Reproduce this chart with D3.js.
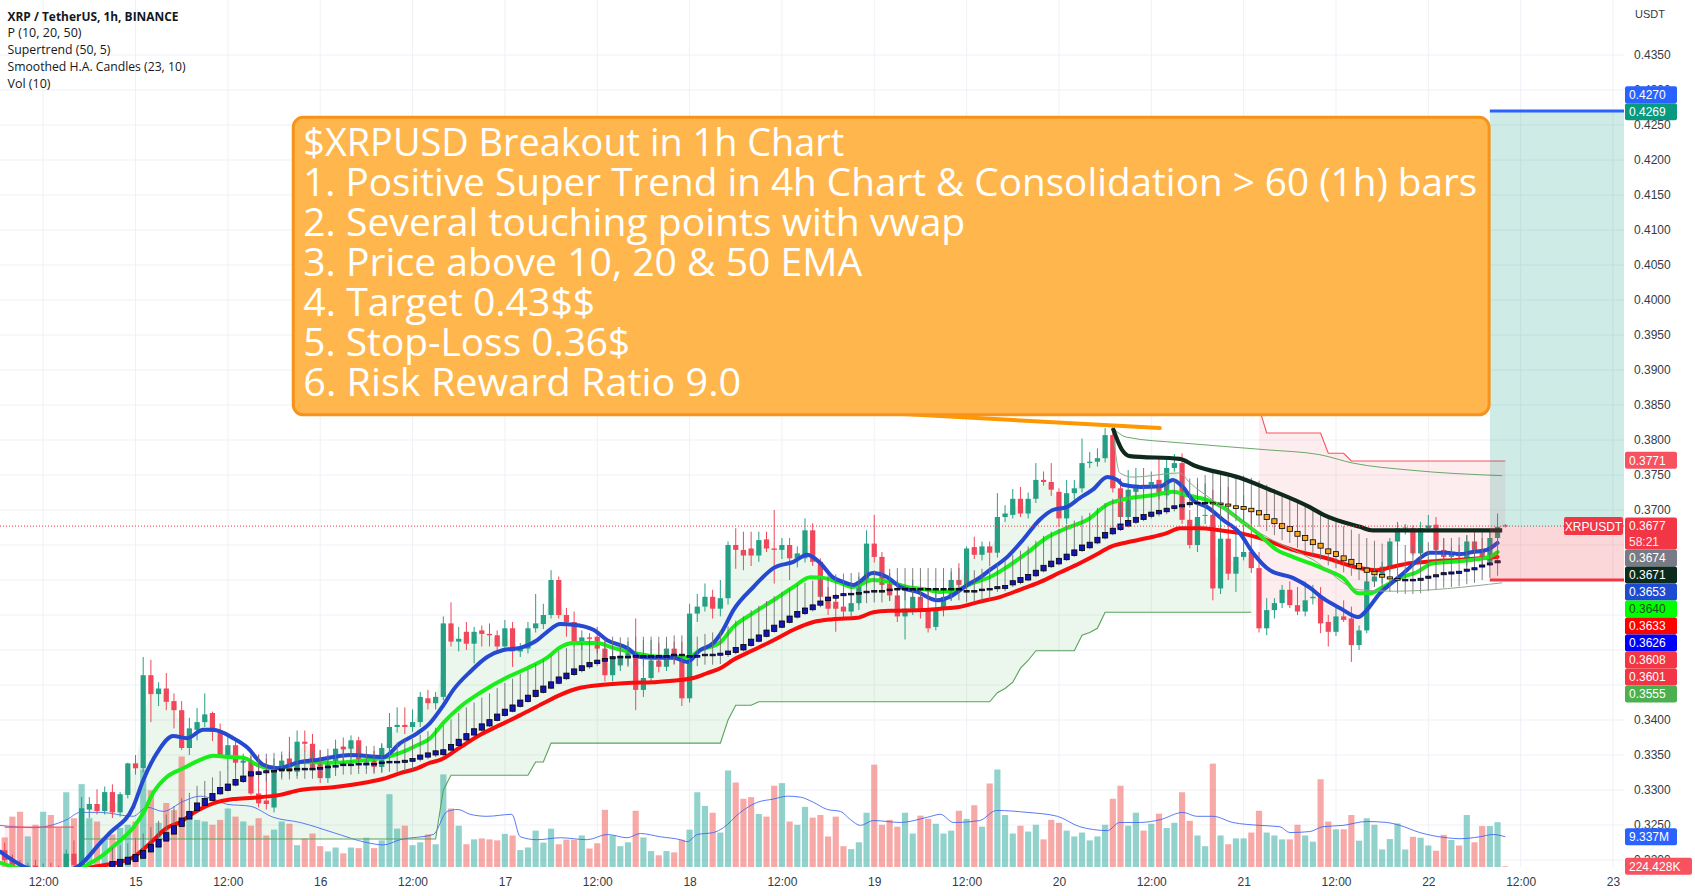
<!DOCTYPE html>
<html><head><meta charset="utf-8">
<script src="https://cdn.jsdelivr.net/npm/d3@7/dist/d3.min.js"></script>
<style>
html,body{margin:0;padding:0;background:#fff;overflow:hidden;}
svg{display:block;}
</style></head><body>
<svg id="chart" width="1695" height="896"></svg>
<script>
// ===================== DATA =====================
// prices are in units of 0.0001 USDT, volumes in millions XRP
// candle k opens at hour (firstHour + k), hours counted from day 15 00:00
const firstHour = -17;
const openP = [
3214,3200,3190,3185,3192,3183,3188,3184,3180,3209,
3193,3272,3280,3270,3297,3268,3293,3338,3331,3464,
3437,3445,3427,3414,3360,3386,3397,3410,3383,3350,
3364,3339,3342,3295,3285,3275,3326,3345,3326,3369,
3366,3345,3317,3338,3362,3359,3371,3338,3345,3333,
3360,3390,3393,3390,3397,3431,3424,3433,3538,3512,
3526,3509,3528,3523,3521,3505,3531,3498,3502,3531,
3537,3550,3600,3550,3540,3512,3518,3519,3502,3464,
3478,3488,3495,3443,3460,3485,3476,3502,3491,3431,
3552,3562,3576,3559,3574,3650,3643,3645,3635,3658,
3645,3643,3650,3631,3631,3671,3626,3576,3569,3562,
3555,3567,3598,3652,3633,3595,3578,3548,3559,3576,
3559,3533,3559,3576,3600,3593,3647,3636,3648,3639,
3690,3693,3716,3695,3716,3743,3740,3726,3688,3724,
3731,3767,3769,3774,3807,3731,3690,3726,3736,3736,
3743,3721,3760,3767,3686,3650,3693,3693,3588,3659,
3609,3633,3640,3617,3531,3557,3567,3586,3564,3555,
3574,3576,3540,3526,3548,3545,3507,3528,3598,3605,
3619,3655,3674,3674,3638,3674,3679,3643,3633,3640,
3626,3655,3643,3626,3660,3678];
const highP = [
3225,3208,3200,3196,3200,3195,3196,3192,3215,3228,
3290,3290,3301,3305,3308,3297,3339,3350,3490,3486,
3454,3467,3438,3427,3403,3417,3438,3412,3395,3376,
3371,3352,3348,3351,3345,3345,3350,3376,3385,3385,
3380,3357,3350,3372,3375,3378,3376,3352,3356,3367,
3410,3418,3418,3415,3440,3443,3440,3548,3568,3533,
3540,3533,3535,3538,3528,3543,3540,3510,3540,3580,
3566,3614,3605,3560,3555,3528,3524,3533,3515,3500,
3510,3512,3545,3514,3514,3510,3512,3512,3512,3566,
3580,3595,3586,3600,3655,3674,3669,3669,3669,3669,
3700,3660,3660,3648,3688,3681,3631,3590,3580,3575,
3580,3605,3671,3693,3640,3610,3600,3590,3600,3590,
3585,3580,3590,3612,3624,3648,3662,3655,3655,3724,
3707,3730,3733,3725,3767,3755,3767,3731,3743,3743,
3802,3783,3788,3817,3819,3745,3757,3760,3760,3755,
3774,3774,3780,3781,3700,3738,3738,3729,3733,3733,
3667,3721,3700,3640,3574,3574,3593,3598,3590,3598,
3593,3590,3550,3562,3571,3562,3535,3619,3612,3626,
3660,3683,3680,3678,3683,3693,3690,3660,3648,3650,
3664,3669,3660,3669,3695,3680];
const lowP = [
3196,3182,3178,3175,3180,3172,3176,3170,3175,3188,
3188,3260,3265,3265,3260,3262,3288,3322,3325,3397,
3420,3414,3388,3357,3350,3371,3390,3370,3347,3331,
3330,3322,3293,3275,3272,3268,3318,3322,3320,3355,
3325,3310,3310,3328,3340,3345,3330,3330,3325,3325,
3350,3382,3380,3383,3390,3415,3415,3428,3505,3498,
3500,3481,3505,3505,3495,3500,3476,3490,3495,3525,
3530,3545,3545,3519,3505,3500,3505,3495,3455,3455,
3470,3478,3414,3433,3455,3468,3470,3480,3420,3425,
3540,3555,3545,3548,3565,3616,3614,3620,3626,3640,
3595,3630,3600,3618,3625,3620,3570,3550,3526,3545,
3548,3557,3590,3625,3585,3570,3540,3515,3550,3545,
3525,3528,3548,3570,3590,3588,3630,3628,3620,3632,
3683,3688,3690,3688,3710,3735,3720,3676,3680,3715,
3725,3760,3762,3768,3725,3680,3685,3715,3725,3730,
3715,3715,3755,3680,3645,3640,3680,3571,3580,3600,
3583,3628,3610,3525,3521,3545,3560,3560,3550,3548,
3565,3524,3505,3520,3540,3483,3500,3524,3590,3595,
3612,3648,3665,3635,3632,3668,3640,3630,3625,3628,
3620,3630,3622,3620,3655,3675];
const closeP = [
3200,3190,3185,3192,3183,3188,3184,3180,3209,3193,
3274,3280,3270,3297,3268,3294,3338,3331,3464,3437,
3445,3426,3414,3360,3388,3397,3408,3383,3350,3364,
3339,3342,3295,3281,3280,3326,3342,3326,3369,3366,
3331,3317,3338,3359,3358,3371,3343,3343,3333,3360,
3390,3393,3390,3397,3433,3424,3433,3538,3512,3516,
3509,3526,3523,3521,3505,3531,3498,3502,3531,3538,
3550,3600,3550,3540,3512,3518,3516,3502,3464,3490,
3492,3497,3443,3460,3485,3476,3502,3490,3431,3552,
3562,3576,3559,3574,3650,3643,3635,3635,3657,3645,
3643,3650,3631,3638,3671,3626,3576,3559,3559,3555,
3567,3598,3652,3633,3593,3578,3548,3559,3576,3559,
3531,3559,3576,3600,3593,3645,3636,3648,3639,3690,
3695,3716,3695,3716,3743,3740,3729,3688,3724,3731,
3767,3769,3774,3807,3731,3690,3729,3736,3734,3740,
3721,3760,3767,3686,3650,3690,3693,3588,3659,3609,
3633,3640,3617,3531,3557,3567,3586,3564,3555,3571,
3576,3538,3526,3548,3543,3507,3528,3598,3605,3619,
3655,3674,3675,3638,3674,3678,3643,3633,3640,3634,
3655,3640,3629,3660,3676,3677];
const volumeM = [
9.1,15.5,17,9.4,13,17,16,12,23,15,
25.5,15,14,9,10,12,13,14,30,23.6,
13.6,19.7,17.5,34,17,14.5,14,13,14.5,18,
15.5,14,12.7,15,9.7,11.5,14,13.3,6.7,8.8,
10.3,6.4,4.8,6,4.2,6,5.8,9,5.8,8.2,
22.4,11.8,12.7,6.7,7.6,10,7,28.5,18,12.7,
7,8.5,8.8,8.5,8.2,10.2,9.7,5.2,6,11.2,
7.5,11.8,7,8.4,8.4,9.7,5.7,7.3,17.6,9.7,
6.4,7.6,17.3,9.1,4.9,3.6,4.9,4.5,8.4,11.5,
23,18.8,16.7,10.6,29.7,26,21,21.5,16.3,15.5,
25,25.8,14,13,18.5,15.2,16,9.4,15.5,6.4,
5.5,7.6,16.7,31.5,13,14.5,12.4,16.7,10.3,15.8,
14.8,13.3,10.3,11.2,17.3,14.8,19,12.4,25.7,30,
16,10.3,12.7,10.9,13,8.5,14.5,13.6,11.2,9.4,
10.6,8.2,9.4,13,21,25,12.7,16.7,11.2,13.3,
16.4,12,13.6,23,14.2,9.7,6.4,31.8,9.7,7,
8.8,8.8,10.6,17.3,10.6,9.7,8.5,8.5,13,9.7,
7.8,27,14,11.6,11.6,16,8.1,15,13,5.4,
8.6,13.4,5.4,9.3,9,6.6,5,9.9,8.3,6.6,
16,7.6,12.6,12.6,13.8,0.224];
// Supertrend (50,5) level per candle
const superTrend = [
3247,3247,3247,3247,3247,3247,3247,3247,3247,3247,
3230,3230,3230,3230,3230,3230,3230,3230,3230,3230,
3230,3230,3230,3230,3230,3230,3230,3230,3230,3230,
3230,3230,3230,3230,3230,3230,3230,3230,3230,3230,
3230,3230,3230,3230,3230,3230,3230,3230,3230,3230,
3230,3230,3230,3230,3230,3230,3230,3300,3321,3321,
3321,3321,3321,3321,3321,3321,3321,3321,3321,3340,
3340,3367,3367,3367,3367,3367,3367,3367,3367,3367,
3367,3367,3367,3367,3367,3367,3367,3367,3367,3367,
3367,3367,3367,3367,3400,3421,3421,3421,3426,3426,
3426,3426,3426,3426,3426,3426,3426,3426,3426,3426,
3426,3426,3426,3426,3426,3426,3426,3426,3426,3426,
3426,3426,3426,3426,3426,3426,3426,3426,3426,3439,
3445,3454,3474,3485,3499,3499,3499,3499,3499,3499,
3521,3525,3531,3554,3554,3554,3554,3554,3554,3554,
3554,3554,3554,3554,3554,3554,3554,3554,3554,3554,
3554,3554,3554,3846,3810,3810,3810,3810,3810,3810,
3810,3810,3781,3781,3781,3770,3770,3770,3770,3770,
3770,3770,3770,3770,3770,3770,3770,3770,3770,3770,
3770,3770,3770,3770,3770,3770];
// trend sides: [fromHour, toHour, +1 up / -1 down]
const stSides = [[-17,-8,-1],[-7,145,1],[146,178,-1]];

// Smoothed Heikin-Ashi (23,10): body centre, signed body size, wick above / below centre
const haStart = -3;
const haMid = [
3193,3196,3199,3203,3208,3217,3224,3233,3243,3254,
3264,3276,3283,3290,3299,3304,3311,3316,3323,3324,
3326,3327,3329,3329,3330,3330,3330,3331,3333,3334,
3336,3336,3337,3337,3337,3339,3340,3340,3341,3343,
3347,3350,3353,3354,3361,3368,3376,3383,3390,3396,
3404,3411,3417,3424,3431,3438,3444,3450,3457,3463,
3469,3474,3479,3483,3486,3489,3490,3490,3491,3491,
3491,3491,3491,3493,3493,3491,3491,3493,3493,3494,
3496,3500,3504,3511,3517,3524,3531,3537,3544,3551,
3556,3561,3567,3573,3576,3579,3580,3581,3583,3584,
3584,3586,3587,3587,3587,3587,3587,3587,3587,3587,
3587,3584,3584,3586,3587,3589,3590,3596,3600,3604,
3610,3617,3623,3627,3633,3639,3646,3650,3657,3664,
3670,3676,3681,3686,3690,3694,3697,3700,3704,3706,
3709,3710,3710,3710,3709,3707,3704,3703,3700,3696,
3690,3684,3677,3673,3666,3660,3654,3649,3641,3637,
3631,3626,3620,3614,3610,3606,3603,3601,3600,3600,
3601,3604,3606,3609,3610,3611,3614,3616,3620,3623,
3626];
const haBody = [
10,10,10,10,11,11,11,12,12,12,
11,11,10,10,9,9,8,8,6,4,
3,2,2,2,2,2,2,2,2,2,
2,2,2,2,2,2,2,2,3,4,
6,6,6,7,8,9,9,9,9,9,
9,9,9,9,9,9,9,9,9,8,
8,7,6,5,4,3,2,2,2,2,
2,2,2,2,2,2,2,2,2,3,
5,7,8,9,9,9,9,9,9,8,
8,7,6,5,4,3,2,2,2,2,
2,2,2,2,2,2,2,2,2,2,
2,2,2,2,2,3,4,6,7,8,
8,8,8,8,8,8,8,8,8,8,
8,8,8,7,7,6,5,5,4,3,
3,2,2,-2,-2,-3,-4,-4,-5,-6,
-7,-7,-7,-7,-7,-7,-7,-7,-7,-7,
-7,-7,-7,-6,-5,-4,-3,-2,2,2,
3,3,3,3,3,3,3,3,3,3,
3];
const haUp = [
25,25,25,28,30,30,32,32,34,34,
32,30,30,28,28,28,28,28,28,26,
26,26,26,26,26,26,26,26,26,26,
26,26,26,26,26,26,28,28,30,30,
32,34,36,38,40,42,42,42,42,42,
42,42,42,42,42,42,42,42,42,40,
38,36,34,32,30,30,28,28,28,28,
28,28,28,28,28,28,28,30,32,34,
38,42,44,46,46,46,46,46,44,42,
40,38,36,34,32,30,30,30,30,30,
30,30,30,30,30,30,30,30,30,30,
30,30,30,30,32,34,38,40,42,44,
46,46,46,46,46,46,46,46,46,46,
46,46,46,46,44,42,40,40,38,36,
36,36,40,44,46,46,46,46,46,46,
46,46,46,46,46,46,46,46,46,46,
46,46,46,46,46,46,48,50,50,50,
50,50,50,50,50,50,50,50,50,50,
50];
const haDn = [
6,6,6,6,6,6,6,6,6,6,
6,6,6,6,6,6,6,6,6,6,
14,14,14,14,14,14,14,14,14,14,
14,14,14,14,14,14,14,14,14,14,
6,6,6,6,6,6,6,6,6,6,
6,6,6,6,6,6,6,6,6,6,
6,6,6,6,14,14,14,14,14,14,
14,14,14,14,14,14,14,14,14,14,
6,6,6,6,6,6,6,6,6,6,
6,6,6,6,6,16,16,16,16,16,
16,16,16,16,16,16,16,16,16,16,
16,16,16,16,16,6,6,6,6,6,
6,6,6,6,6,6,6,6,6,6,
6,6,6,6,6,6,6,6,6,6,
6,6,6,20,20,20,20,20,20,20,
20,20,20,20,20,20,20,20,20,20,
20,20,20,20,20,20,20,20,20,20,
20,20,20,20,20,20,20,20,20,20,
20];

// EMA 10 / 20 / 50: [hour, price]
const ema10 = [[-17.6,3212],[-16,3200],[-14,3188],[-11,3182],[-9,3184],[-7.2,3193],[-4.6,3224],[-3.3,3239],[-0.3,3276],[1,3314],[2.8,3353],[4.9,3377],[6.7,3374],[8.8,3386],[10.1,3386],[12.7,3374],[14.5,3361],[16.6,3336],[18.4,3331],[21.4,3340],[23.6,3343],[27.9,3350],[32.2,3347],[34.4,3367],[36.6,3381],[38.3,3396],[40,3421],[41.3,3443],[43.5,3469],[45.7,3490],[47.8,3500],[50,3503],[52.2,3514],[53.5,3526],[55.2,3537],[56.9,3536],[59.5,3529],[61.3,3514],[63.9,3503],[65.6,3490],[67.3,3489],[69.9,3489],[71.7,3483],[73.4,3500],[75.1,3510],[76.2,3526],[77.7,3557],[80.3,3590],[82.9,3617],[85.5,3626],[87.3,3636],[89,3624],[90.6,3604],[91.8,3598],[93.3,3593],[95.8,3610],[97.7,3604],[99.4,3590],[101.6,3583],[104.2,3571],[105.8,3576],[108.1,3593],[109.8,3604],[111,3614],[113.3,3633],[115.3,3657],[117.5,3686],[119.2,3700],[121,3704],[122.7,3717],[124.4,3729],[126.3,3747],[127.6,3743],[128.3,3736],[130.6,3733],[133.2,3734],[134.8,3743],[136.1,3733],[137.4,3714],[139.3,3704],[141.3,3686],[143.5,3667],[145.2,3639],[147.4,3614],[150.4,3603],[152.6,3589],[154.3,3574],[156.5,3560],[158.9,3547],[160,3557],[161.7,3581],[163.4,3597],[165.2,3614],[166.9,3631],[168.2,3639],[170.4,3639],[172.1,3637],[173.8,3640],[175.6,3643],[177,3653]];
const ema20 = [[-17.6,3196],[-15,3188],[-11,3182],[-8,3184],[-6.8,3190],[-4.6,3204],[-2.4,3224],[-0.3,3246],[1,3267],[2.3,3296],[4.1,3319],[6.2,3331],[8.4,3343],[10.1,3349],[12.3,3347],[14,3346],[15.8,3336],[17.5,3331],[19.7,3333],[21.4,3340],[25.7,3339],[30.1,3343],[32.2,3346],[34.4,3353],[36.6,3364],[38.3,3374],[40,3396],[42.2,3419],[44.8,3439],[48.3,3461],[50.9,3474],[53.5,3489],[55.2,3504],[56.9,3510],[60,3510],[62.1,3503],[64.7,3496],[67.3,3491],[69.9,3490],[71.7,3489],[73.4,3500],[76,3511],[77.7,3533],[80.3,3553],[82.9,3571],[85.5,3590],[87.7,3604],[89.4,3603],[91.6,3596],[93.2,3590],[95.8,3600],[98.1,3597],[100.3,3590],[102.9,3586],[104.6,3583],[106.8,3586],[108.9,3596],[111,3604],[113.3,3619],[115.9,3639],[118.5,3661],[121,3674],[123.7,3686],[126.3,3708],[128.8,3716],[132.2,3721],[134.8,3726],[136.7,3721],[139.3,3714],[141.3,3704],[143.5,3686],[145.8,3667],[148.3,3643],[150.4,3633],[152.6,3624],[154.8,3614],[156.9,3603],[158.9,3581],[160.4,3581],[162.1,3590],[164.3,3603],[166.5,3611],[168.6,3624],[171.2,3626],[173.8,3629],[176,3633],[177,3640]];
const ema50 = [[-17.6,3180],[-10,3176],[-5.5,3190],[-2.4,3196],[-0.3,3204],[1.9,3224],[4.1,3246],[5.8,3254],[7.5,3267],[10.1,3281],[12.7,3287],[15.3,3289],[18.8,3293],[21.4,3300],[25.7,3304],[30.1,3311],[32.2,3316],[34.4,3324],[36.6,3331],[38.3,3339],[39.6,3343],[42.2,3361],[44.8,3379],[47.4,3393],[50,3407],[53,3424],[55.2,3436],[57.8,3446],[60.4,3450],[63.9,3453],[67.3,3454],[70.8,3457],[72.5,3460],[74.3,3467],[76,3474],[77.7,3486],[80.3,3500],[82.9,3514],[85.5,3529],[88.1,3540],[90.6,3544],[93.8,3546],[95.9,3554],[98.1,3556],[102.4,3557],[104.6,3559],[106.8,3561],[109.7,3569],[112.4,3576],[114.9,3586],[117.5,3597],[120.2,3611],[122.7,3624],[125.3,3639],[126.6,3647],[128.9,3654],[131.5,3660],[134,3667],[135.7,3674],[138.3,3674],[140.9,3671],[143.5,3667],[146.1,3660],[150.4,3643],[154.8,3631],[159.1,3617],[161.3,3614],[163.4,3619],[165.6,3624],[167.8,3626],[172.1,3629],[177,3633]];
// anchored VWAP from the peak and its bands: [hour, price]
const vwapLine = [[127,3817],[128.2,3786],[129.2,3777],[135.7,3773],[137.5,3764],[143.5,3746],[147.4,3729],[152.6,3704],[154.4,3693],[159.1,3676],[160.8,3671],[177.6,3671]];
const vwapUpper = [[127,3817],[128.8,3804],[135.7,3796],[147,3786],[153.9,3779],[158.2,3767],[165.6,3757],[177.6,3749]];
const vwapLower = [[127,3817],[127.9,3753],[129.6,3747],[135.7,3753],[137,3739],[140,3714],[146.1,3667],[153,3629],[159.1,3586],[163.4,3584],[177.6,3596]];
// Volume MA(10): [hour, millions]
const volMA = [[-17.6,12.8],[-13.3,12.1],[-8.9,14.6],[-7.2,16.8],[-4.6,16.8],[-0.3,15.6],[1.5,18.4],[3.6,17.1],[6.2,20.2],[8.4,21.8],[10.1,20.9],[11.9,19.3],[14.9,18.7],[17.9,15.3],[21.4,13.7],[25.7,10.6],[30.1,7.5],[32.2,6.8],[34.4,8.4],[38.7,10],[40.5,17.1],[41.9,17.7],[43.5,16.2],[45.7,15.6],[48.9,16.2],[50,9.3],[52.2,8.4],[55.2,9],[58.7,8.4],[61.3,10],[63.9,9],[65.6,10.3],[68.2,9.3],[70.8,8.4],[71.7,7.8],[73,10],[75.1,10.6],[76.4,12.1],[78.6,16.8],[80.8,19.9],[82.9,20.9],[84.7,21.8],[86.4,21.5],[88.1,19.9],[89.9,17.7],[91.6,17.1],[92.9,14.6],[94.2,12.8],[95.9,14.3],[99.4,13.7],[102.9,15.3],[104.6,16.2],[106.3,13.7],[109.7,14.3],[111.9,17.4],[115.9,16.8],[119.8,15.6],[122.7,12.4],[126.3,11.2],[127.9,13.7],[130.6,13.7],[133.2,14.6],[136.1,16.8],[137.9,15.6],[140,15.6],[142.6,13.7],[146.1,12.8],[148.7,12.4],[150,10.6],[152.6,10.9],[154.3,12.4],[156.9,12.8],[160,14],[162.6,13.7],[164.3,12.8],[166.9,10.6],[170.4,9],[172.1,8.7],[174.7,9.3],[176.4,10],[178,9.3]];

// axes
const priceTicks = [3200,3250,3300,3350,3400,3450,3500,3550,3600,3650,3700,3750,3800,3850,3900,3950,4000,4050,4100,4150,4200,4250,4300,4350];
const timeTickHours = [-12,0,12,24,36,48,60,72,84,96,108,120,132,144,156,168,180,192];
const timeTickLabels = ['12:00','15','12:00','16','12:00','17','12:00','18','12:00','19','12:00','20','12:00','21','12:00','22','12:00','23'];

// long position drawing and callout
const positionTool = {startHour: 176, target: 4270, entry: 3676, stop: 3600};
const callout = {h0: 20.5, h1: 175.9, top: 4261, bottom: 3836, tailFromHour: 96.8, tailToHour: 133.1, tailToPrice: 3817};
const calloutLines = ['$XRPUSD Breakout in 1h Chart','1. Positive Super Trend in 4h Chart & Consolidation > 60 (1h) bars','2. Several touching points with vwap','3. Price above 10, 20 & 50 EMA','4. Target 0.43$$','5. Stop-Loss 0.36$','6. Risk Reward Ratio 9.0'];
const legendLines = ['XRP / TetherUS, 1h, BINANCE','P (10, 20, 50)','Supertrend (50, 5)','Smoothed H.A. Candles (23, 10)','Vol (10)'];
const lastPrice = 3677;
// right-axis value labels
const axisMarks = [
 {v:4270, t:'0.4270', bg:'#2962ff', fg:'#fff', up:true},
 {v:4269, t:'0.4269', bg:'#089981', fg:'#fff'},
 {v:3771, t:'0.3771', bg:'#f7525f', fg:'#fff'},
 {v:3677, t:'0.3677', t2:'58:21', bg:'#f23645', fg:'#fff'},
 {v:3674, t:'0.3674', bg:'#787b86', fg:'#fff'},
 {v:3671, t:'0.3671', bg:'#0d2b1d', fg:'#fff'},
 {v:3653, t:'0.3653', bg:'#1f4bd0', fg:'#fff'},
 {v:3640, t:'0.3640', bg:'#00ff00', fg:'#1b4d1b'},
 {v:3633, t:'0.3633', bg:'#ff0000', fg:'#fff'},
 {v:3626, t:'0.3626', bg:'#0000ff', fg:'#fff'},
 {v:3608, t:'0.3608', bg:'#f23645', fg:'#fff'},
 {v:3601, t:'0.3601', bg:'#f23645', fg:'#fff'},
 {v:3555, t:'0.3555', bg:'#4caf50', fg:'#fff'},
 {v:9.337, t:'9.337M', bg:'#2962ff', fg:'#fff', vol:true},
 {v:0.224, t:'224.428K', bg:'#f7525f', fg:'#fff', vol:true}
];

// ===================== DRAWING =====================
const FONT = '"Liberation Sans", Arial, sans-serif';
const PW = 1624, PH = 867;
const svg = d3.select('#chart');
const x = d3.scaleLinear().domain([0, 192]).range([135.5, 1613]);
const y = d3.scaleLinear().domain([3400, 4000]).range([720, 300]);
const yv = d3.scaleLinear().domain([0, 10]).range([PH, PH - 32.5]);
const step = x(1) - x(0);

svg.append('rect').attr('width',1695).attr('height',896).attr('fill','#ffffff');
svg.append('defs').append('clipPath').attr('id','plotClip')
  .append('rect').attr('x',0).attr('y',0).attr('width',PW).attr('height',PH);
const plot = svg.append('g').attr('clip-path','url(#plotClip)');

const candles = openP.map((o,i)=>({h:firstHour+i, o, hi:highP[i], lo:lowP[i], c:closeP[i], v:volumeM[i], st:superTrend[i]}));
const ha = haMid.map((m,i)=>({h:haStart+i, m, b:haBody[i], up:haUp[i], dn:haDn[i]}));

// grid
plot.append('g').selectAll('line').data(timeTickHours).join('line')
  .attr('x1',d=>x(d)).attr('x2',d=>x(d)).attr('y1',0).attr('y2',PH)
  .attr('stroke','#eef1f6').attr('stroke-width',1);
plot.append('g').selectAll('line').data(priceTicks).join('line')
  .attr('x1',0).attr('x2',PW).attr('y1',d=>y(d)).attr('y2',d=>y(d))
  .attr('stroke','#eef1f6').attr('stroke-width',1);

// supertrend fills + lines
const gFill = plot.append('g');
const gST = plot.append('g');
stSides.forEach(([a,b,side])=>{
  const seg = candles.filter(d=>d.h>=a && d.h<=b);
  gFill.append('path').datum(seg)
    .attr('d', d3.area().x(d=>x(d.h)).y0(d=>y(d.st)).y1(d=>y((d.o+d.c)/2)))
    .attr('fill', side>0 ? 'rgba(76,175,80,0.11)' : 'rgba(242,54,69,0.09)');
  gST.append('path').datum(seg)
    .attr('d', d3.line().x(d=>x(d.h)).y(d=>y(d.st)))
    .attr('fill','none').attr('stroke', side>0 ? '#5aa25d' : '#f7525f').attr('stroke-width',1.1);
});

// volume
plot.append('g').selectAll('rect').data(candles).join('rect')
  .attr('x',d=>x(d.h)-step*0.4).attr('width',step*0.8)
  .attr('y',d=>yv(d.v)).attr('height',d=>PH-yv(d.v))
  .attr('fill',d=>d.c>=d.o ? 'rgba(38,166,154,0.5)' : 'rgba(239,83,80,0.5)');
plot.append('path').datum(volMA)
  .attr('d', d3.line().x(d=>x(d[0])).y(d=>yv(d[1])).curve(d3.curveMonotoneX))
  .attr('fill','none').attr('stroke','#3d63f2').attr('stroke-width',1).attr('opacity',0.85);
plot.node().appendChild(gST.node());

// candles
const gC = plot.append('g');
gC.selectAll('line').data(candles).join('line')
  .attr('x1',d=>x(d.h)).attr('x2',d=>x(d.h)).attr('y1',d=>y(d.hi)).attr('y2',d=>y(d.lo))
  .attr('stroke',d=>d.c>=d.o ? '#26a085' : '#f0475a').attr('stroke-width',1);
gC.selectAll('rect').data(candles).join('rect')
  .attr('x',d=>x(d.h)-step*0.34).attr('width',step*0.68)
  .attr('y',d=>y(Math.max(d.o,d.c))).attr('height',d=>Math.max(1,Math.abs(y(d.o)-y(d.c))))
  .attr('fill',d=>d.c>=d.o ? '#26a085' : '#f0475a');

// EMAs
const lineHP = d3.line().x(d=>x(d[0])).y(d=>y(d[1])).curve(d3.curveMonotoneX);
[[ema50,'#f80c0c'],[ema20,'#1aee1a'],[ema10,'#2649d2']].forEach(([data,col])=>{
  plot.append('path').datum(data).attr('d',lineHP).attr('fill','none')
    .attr('stroke',col).attr('stroke-width',4).attr('stroke-linecap','round').attr('stroke-linejoin','round');
});

// smoothed HA candles
const gHA = plot.append('g');
gHA.selectAll('line').data(ha).join('line')
  .attr('x1',d=>x(d.h)).attr('x2',d=>x(d.h)).attr('y1',d=>y(d.m+d.up)).attr('y2',d=>y(d.m-d.dn))
  .attr('stroke','#707070').attr('stroke-width',0.9);
gHA.selectAll('rect').data(ha).join('rect')
  .attr('x',d=>x(d.h)-2.6).attr('width',5.2)
  .attr('y',d=>y(d.m+Math.abs(d.b)/2)).attr('height',d=>Math.max(1.6, y(d.m-Math.abs(d.b)/2)-y(d.m+Math.abs(d.b)/2)))
  .attr('fill',d=>d.b>=0 ? '#1414b4' : '#f5a623').attr('stroke','#000').attr('stroke-width',0.8);

// VWAP lines
plot.append('path').datum(vwapUpper).attr('d',lineHP).attr('fill','none').attr('stroke','#6aa76a').attr('stroke-width',1);
plot.append('path').datum(vwapLower).attr('d',lineHP).attr('fill','none').attr('stroke','#8fa98f').attr('stroke-width',1);
plot.append('path').datum(vwapLine).attr('d',lineHP).attr('fill','none').attr('stroke','#0f2a1d').attr('stroke-width',4.2).attr('stroke-linejoin','round');

// current price dotted line
plot.append('line').attr('x1',0).attr('x2',PW).attr('y1',y(lastPrice)).attr('y2',y(lastPrice))
  .attr('stroke','#f23645').attr('stroke-width',1).attr('stroke-dasharray','1,2');

// position tool
const pt = positionTool, px0 = x(pt.startHour);
plot.append('rect').attr('x',px0).attr('width',PW-px0).attr('y',y(pt.target)).attr('height',y(pt.entry)-y(pt.target)).attr('fill','rgba(8,153,129,0.2)');
plot.append('rect').attr('x',px0).attr('width',PW-px0).attr('y',y(pt.entry)).attr('height',y(pt.stop)-y(pt.entry)).attr('fill','rgba(242,54,69,0.2)');
plot.append('line').attr('x1',px0).attr('x2',PW).attr('y1',y(pt.target)).attr('y2',y(pt.target)).attr('stroke','#2962ff').attr('stroke-width',3);
plot.append('line').attr('x1',px0).attr('x2',PW).attr('y1',y(pt.stop)).attr('y2',y(pt.stop)).attr('stroke','#f23645').attr('stroke-width',3);

// callout
const co = callout;
const bx = x(co.h0), by = y(co.top), bw = x(co.h1)-bx, bh = y(co.bottom)-by;
plot.append('line').attr('x1',x(co.tailFromHour)).attr('y1',by+bh-2).attr('x2',x(co.tailToHour)).attr('y2',y(co.tailToPrice))
  .attr('stroke','#ff9800').attr('stroke-width',4).attr('stroke-linecap','round');
plot.append('rect').attr('x',bx).attr('y',by).attr('width',bw).attr('height',bh).attr('rx',10)
  .attr('fill','#ffb74d').attr('stroke','#f7931a').attr('stroke-width',3);
const noteWidths = [541,1174,662,559,292,327,438];
plot.append('g').selectAll('text').data(calloutLines).join('text')
  .attr('x',bx+10).attr('y',(d,i)=>by+39+i*40)
  .attr('textLength',(d,i)=>noteWidths[i]).attr('lengthAdjust','spacingAndGlyphs')
  .attr('font-family','"Open Sans", "Noto Sans", sans-serif').attr('font-size',38).attr('fill','#ffffff')
  .text(d=>d);

// symbol label
const sy = y(lastPrice);
plot.append('rect').attr('x',PW-60).attr('y',sy-9).attr('width',59).attr('height',18).attr('rx',2).attr('fill','#f23645');
plot.append('text').attr('x',PW-30.5).attr('y',sy+4.5).attr('text-anchor','middle').attr('font-family',FONT)
  .attr('font-size',12).attr('fill','#fff').text('XRPUSDT');

// legend
const legendWidths = [171,74,103,178,43];
svg.append('g').selectAll('text').data(legendLines).join('text')
  .attr('x',7.5).attr('y',(d,i)=>20.5+i*16.9)
  .attr('textLength',(d,i)=>legendWidths[i]).attr('lengthAdjust','spacingAndGlyphs')
  .attr('font-family','"Open Sans", "Noto Sans", sans-serif').attr('font-size',12.5)
  .attr('font-weight',(d,i)=>i===0?700:400).attr('fill','#131722').text(d=>d);

// axis value labels: positions stacked like the platform does
const marks = axisMarks.map(m=>({...m, y: m.vol ? yv(m.v) : y(m.v), hgt: m.t2 ? 32 : 17}));
marks.sort((a,b)=>a.y-b.y);
for (let i=0;i<marks.length-1;i++){
  const a = marks[i], b = marks[i+1];
  const aBottom = a.y - 8.5 + a.hgt, bTop = b.y - 8.5;
  if (bTop < aBottom){ if (a.up) a.y -= (aBottom-bTop); else b.y += (aBottom-bTop); }
}
// merged vertical extents of the stacked value labels
const spans = [];
marks.forEach(m=>{
  const t = m.y-8.5, b = t+m.hgt, last = spans[spans.length-1];
  if (last && t <= last[1]+0.6) last[1] = Math.max(last[1], b); else spans.push([t,b]);
});
// a price-scale tick label that sits entirely under the value labels is not shown
const coveredTick = v => spans.some(([t,b]) => y(v)-6 >= t && y(v)+6 <= b);

// price axis
const yAxis = d3.axisRight(y).tickValues(priceTicks.filter(v=>!coveredTick(v))).tickSize(0).tickPadding(0).tickFormat(d=>(d/1e4).toFixed(4));
svg.append('g').attr('transform','translate(1634,0)').call(yAxis)
  .call(g=>g.select('.domain').remove())
  .attr('font-family',FONT).attr('font-size',12)
  .selectAll('text').attr('fill','#363a45');
svg.append('text').attr('x',1635).attr('y',18).attr('font-family',FONT).attr('font-size',11).attr('fill','#363a45').text('USDT');

// time axis
const xAxis = d3.axisBottom(x).tickValues(timeTickHours).tickSize(0).tickPadding(10).tickFormat((d,i)=>timeTickLabels[i]);
svg.append('g').attr('transform',`translate(0,${PH})`).call(xAxis)
  .call(g=>g.select('.domain').remove())
  .attr('font-family',FONT).attr('font-size',12)
  .selectAll('text').attr('fill','#363a45');

// draw value labels over the scale
const gM = svg.append('g').attr('font-family',FONT).attr('font-size',12);
marks.forEach(m=>{
  const w = m.t.length > 6 ? 67 : 52;
  gM.append('rect').attr('x',1625).attr('y',m.y-8.5).attr('width',w).attr('height',m.hgt).attr('rx',2).attr('fill',m.bg);
  gM.append('text').attr('x',1629).attr('y',m.y+4.3).attr('fill',m.fg).text(m.t);
  if (m.t2) gM.append('text').attr('x',1629).attr('y',m.y+19.5).attr('fill',m.fg).attr('opacity',0.9).text(m.t2);
});
</script>
</body></html>
